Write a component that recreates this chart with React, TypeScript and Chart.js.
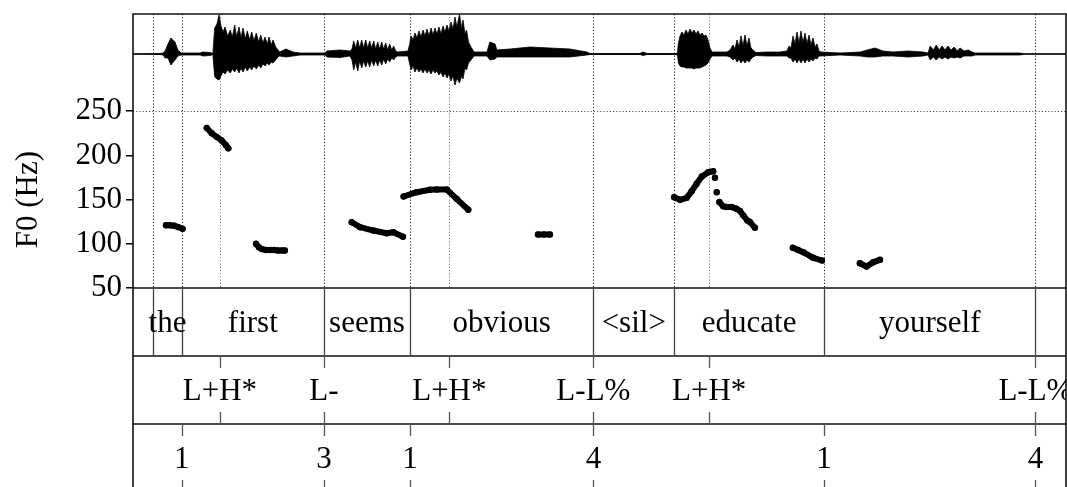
import React, { useEffect, useRef } from 'react';
import { Chart, registerables } from 'chart.js';

Chart.register(...registerables);

const W = 1067;
const H = 487;
const FONT = '"Liberation Serif", "Times New Roman", serif';

// ---- time axis (seconds) ----
const DURATION = 3.2;

// ---- tiers ----
const wordBounds = [0.070, 0.167, 0.655, 0.950, 1.579, 1.856, 2.370, 3.095];
const words = ['', 'the', 'first', 'seems', 'obvious', '<sil>', 'educate', 'yourself', ''];
const toneTimes = [0.298, 0.655, 1.085, 1.579, 1.976, 3.095];
const toneLabels = ['L+H*', 'L-', 'L+H*', 'L-L%', 'L+H*', 'L-L%'];
const breakTimes = [0.167, 0.655, 0.950, 1.579, 2.370, 3.095];
const breakLabels = ['1', '3', '1', '4', '1', '4'];

// ---- F0 axis ----
const f0Ticks = [50, 100, 150, 200, 250];
const F0_MIN = 50;
const F0_MAX = 360;

// ---- F0 track (null = unvoiced gap) ----
const f0Time = [
  0.113, 0.127, 0.141, 0.154, 0.170, 0.21,
  0.253, 0.270, 0.287, 0.304, 0.319, 0.327, 0.37,
  0.422, 0.432, 0.442, 0.456, 0.470, 0.484, 0.497, 0.511, 0.521, 0.6,
  0.750, 0.779, 0.824, 0.870, 0.893, 0.926, 0.927,
  0.928, 0.973, 1.019, 1.042, 1.076, 1.110, 1.150, 1.3,
  1.389, 1.410, 1.430, 1.6,
  1.856, 1.876, 1.899, 1.916, 1.933, 1.951, 1.973, 1.990, 1.993,
  1.996, 1.999,
  2.002, 2.006,
  2.011, 2.024, 2.036, 2.053, 2.070, 2.082, 2.093, 2.107, 2.116, 2.133, 2.2,
  2.263, 2.281, 2.299, 2.333, 2.363, 2.43,
  2.493, 2.516, 2.539, 2.562,
];
const f0Hz = [
  121, 121, 120.5, 119, 117, null,
  231, 225, 221, 217, 211.5, 208, null,
  100, 96, 94, 93, 93, 93, 92.5, 92.5, 92.5, null,
  124.4, 118.8, 115, 112, 113, 108, null,
  153.5, 158.4, 161.1, 161.5, 161.4, 150.9, 138.5, null,
  110.5, 110.5, 110.5, null,
  152.7, 149.8, 152, 159.5, 167.9, 176.1, 181, 182.1, null,
  174.7, null,
  158.4, null,
  147.3, 142.4, 141.6, 141.6, 139.8, 137.1, 132.2, 126.5, 124.6, 118.3, null,
  95.5, 93, 90.5, 84.2, 81.1, null,
  78, 74.3, 79.2, 81.9,
];

// ---- waveform envelope (relative amplitude, full scale = 40) ----
const waveTime = [
  0, 0.093, 0.103, 0.110, 0.120, 0.130, 0.144, 0.154, 0.165, 0.230, 0.240, 0.264, 0.274,
  0.2802, 0.2881, 0.2950, 0.3018, 0.3087, 0.3155, 0.3248, 0.3337, 0.3406, 0.3488, 0.3557, 0.3636,
  0.3704, 0.3773, 0.3852, 0.3920, 0.4003, 0.4071, 0.4150, 0.4229, 0.4311, 0.4380, 0.4459, 0.4527,
  0.4606, 0.4665, 0.4743, 0.4802, 0.4894, 0.4973, 0.5031,
  0.525, 0.549, 0.573, 0.659, 0.665, 0.710, 0.744,
  0.7511, 0.7570, 0.7638, 0.7707, 0.7775, 0.7844, 0.7913, 0.7981, 0.8050, 0.8118, 0.8187, 0.8256,
  0.8324, 0.8393, 0.8461, 0.8530, 0.8598, 0.8667, 0.8736, 0.8804, 0.8873, 0.8941, 0.9010, 0.9079, 0.943,
  0.9490, 0.9535, 0.9603, 0.9672, 0.9740, 0.9809, 0.9878, 0.9946, 1.0015, 1.0083, 1.0152, 1.0221,
  1.0289, 1.0358, 1.0426, 1.0495, 1.0564, 1.0632, 1.0701, 1.0769, 1.0838, 1.0907, 1.0975, 1.1044,
  1.1112, 1.1198, 1.1267, 1.1318, 1.1387, 1.1438, 1.1507, 1.1593, 1.1696,
  1.214, 1.224, 1.242, 1.248, 1.293, 1.362, 1.430, 1.499, 1.557, 1.567, 1.739, 1.749, 1.763, 1.8658,
  1.8675, 1.8709, 1.8761, 1.8829, 1.8898, 1.8967, 1.9035, 1.9104, 1.9172, 1.9241, 1.9310, 1.9378,
  1.9447, 1.9515, 1.9584, 1.9653, 1.9721, 1.9790, 1.9859,
  2.0373, 2.0476, 2.0579, 2.0647, 2.0716, 2.0785, 2.0853, 2.0922, 2.0990, 2.1059, 2.1127, 2.1196,
  2.1265, 2.1368, 2.175, 2.219,
  2.2431, 2.2500, 2.2568, 2.2637, 2.2705, 2.2774, 2.2843, 2.2911, 2.2980, 2.3048, 2.3117, 2.3185,
  2.3254, 2.3323, 2.3391, 2.3460, 2.3528, 2.3597,
  2.425, 2.494, 2.518, 2.545, 2.572, 2.607, 2.658, 2.710, 2.727, 2.734, 2.745, 2.755, 2.765, 2.775,
  2.785, 2.795, 2.806, 2.816, 2.827, 2.837, 2.850, 2.865, 2.878, 2.888, 3.042, 3.059, 3.2,
];
const waveUp = [
  0, 0.5, 1, 3, 10, 16, 12, 4, 1, 1, 2, 1.5, 0.5,
  26, 30, 39, 28, 22, 27, 18, 24, 17, 29, 17, 27,
  16, 26, 15, 23, 14, 22, 13, 21, 12, 19, 11, 17,
  10, 17, 9, 14, 7, 4, 2,
  5, 2, 1, 1, 3, 4, 3,
  5, 13, 6, 14, 6, 14, 6, 14, 6, 13, 6, 13,
  5, 12, 5, 12, 5, 11, 4, 10, 4, 8, 3, 2, 3,
  10, 18, 14, 21, 16, 23, 17, 24, 18, 25, 18, 26,
  19, 26, 20, 27, 20, 28, 22, 29, 23, 32, 25, 37,
  27, 40, 26, 34, 20, 24, 12, 7, 2,
  2, 12, 10, 4, 5, 7, 6, 5, 2, 0.5, 0.5, 2, 0.5, 0.5,
  2, 11, 18, 22, 19, 24, 20, 25, 21, 24, 20, 23,
  19, 21, 18, 19, 14, 6, 2,
  2, 4, 9, 5, 14, 7, 18, 8, 19, 8, 16, 6,
  4, 1.5, 2, 2,
  3, 8, 6, 18, 10, 22, 11, 23, 11, 21, 10, 19,
  9, 16, 7, 10, 3, 2,
  1, 2, 4, 6, 3, 2, 3, 2, 1, 8, 4, 9, 4, 8,
  4, 8, 4, 7, 3, 6, 3, 4, 2, 1, 1, 0, 0,
];
const waveDown = [
  0, 0.5, 1, 4, 4, 11, 6, 2, 1, 1, 2, 1.5, 0.5,
  23, 25, 26, 22, 18, 20, 16, 19, 15, 18, 14, 19,
  14, 18, 13, 17, 13, 16, 12, 15, 11, 14, 10, 12,
  9, 11, 8, 9, 6, 3, 2,
  3, 2, 1, 1, 3, 3.5, 2,
  6, 16, 8, 17, 7, 14, 7, 13, 7, 13, 6, 12,
  6, 12, 6, 11, 5, 10, 5, 8, 4, 6, 3, 2, 2,
  10, 16, 12, 18, 14, 18, 15, 19, 15, 19, 16, 20,
  16, 19, 17, 21, 18, 23, 19, 24, 20, 27, 22, 31,
  24, 29, 22, 25, 14, 16, 9, 6, 2,
  2, 6, 5, 3, 3, 3, 3, 3, 1, 0.5, 0.5, 1.5, 0.5, 0.5,
  2, 9, 12, 13, 13, 14, 14, 14, 14, 15, 14, 14,
  14, 13, 12, 11, 9, 5, 2,
  2, 3, 6, 4, 8, 5, 9, 6, 9, 6, 8, 5,
  3, 1.5, 2, 2,
  2, 4, 4, 8, 5, 9, 5, 9, 5, 9, 5, 8,
  5, 7, 4, 5, 2, 2,
  1, 2, 3, 3, 2, 2, 3, 2, 1, 6, 3, 6, 3, 5,
  3, 5, 3, 4, 3, 4, 2, 2, 2, 1, 1, 0, 0,
];
const WAVE_MAX = 40;
const WAVE_MIN = -234;

function line(ctx: CanvasRenderingContext2D, x1: number, y1: number, x2: number, y2: number) {
  ctx.beginPath();
  ctx.moveTo(x1, y1);
  ctx.lineTo(x2, y2);
  ctx.stroke();
}

const TIER_H = 68;
const TICK = 12;
const BASE = 44;

const praatPlugin = {
  id: 'praatTiers',
  beforeDatasetsDraw(chart: any) {
    const { ctx, chartArea: ca, scales } = chart;
    const xs = scales.x;
    const ys = scales.y;
    ctx.save();
    ctx.lineWidth = 1;
    ctx.setLineDash([1.2, 2]);
    const strong = new Set(wordBounds);
    const all = Array.from(new Set([...wordBounds, ...toneTimes, ...breakTimes]));
    for (const t of all) {
      const px = Math.round(xs.getPixelForValue(t)) + 0.5;
      ctx.strokeStyle = strong.has(t) ? '#222' : '#777';
      line(ctx, px, ca.top, px, ca.bottom);
    }
    const gy = Math.round(ys.getPixelForValue(250)) + 0.5;
    ctx.strokeStyle = '#555';
    line(ctx, ca.left, gy, ca.right, gy);
    ctx.restore();
  },
  afterDatasetsDraw(chart: any) {
    const { ctx, chartArea: ca, scales } = chart;
    const xs = scales.x;
    const ys = scales.y;
    const bottom = chart.height;
    const t1 = ca.bottom;
    const t2 = t1 + TIER_H;
    const t3 = t2 + TIER_H;
    ctx.save();
    ctx.setLineDash([]);
    // frame
    ctx.strokeStyle = '#111';
    ctx.lineWidth = 1.6;
    ctx.beginPath();
    ctx.moveTo(ca.left, bottom + 2);
    ctx.lineTo(ca.left, ca.top);
    ctx.lineTo(ca.right, ca.top);
    ctx.lineTo(ca.right, bottom + 2);
    ctx.stroke();
    for (const yy of [t1, t2, t3]) line(ctx, ca.left, yy, ca.right, yy);

    // word tier boundaries
    ctx.strokeStyle = '#444';
    ctx.lineWidth = 1.3;
    for (const t of wordBounds) {
      const px = Math.round(xs.getPixelForValue(t)) + 0.5;
      line(ctx, px, t1, px, t2);
    }
    // point tier ticks
    ctx.strokeStyle = '#555';
    for (const t of toneTimes) {
      const px = Math.round(xs.getPixelForValue(t)) + 0.5;
      line(ctx, px, t2, px, t2 + TICK);
      line(ctx, px, t3 - TICK, px, t3);
    }
    for (const t of breakTimes) {
      const px = Math.round(xs.getPixelForValue(t)) + 0.5;
      line(ctx, px, t3, px, t3 + TICK);
      line(ctx, px, t3 + TIER_H - TICK, px, t3 + TIER_H);
    }

    // labels
    ctx.beginPath();
    ctx.rect(ca.left, t1, ca.right - ca.left, bottom - t1);
    ctx.clip();
    ctx.fillStyle = '#000';
    ctx.font = `31px ${FONT}`;
    ctx.textAlign = 'center';
    ctx.textBaseline = 'alphabetic';
    const edges = [0, ...wordBounds, DURATION];
    words.forEach((w, i) => {
      if (!w) return;
      const cx = (xs.getPixelForValue(edges[i]) + xs.getPixelForValue(edges[i + 1])) / 2;
      ctx.fillText(w, cx, t1 + BASE);
    });
    toneLabels.forEach((l, i) => {
      ctx.fillText(l, xs.getPixelForValue(toneTimes[i]), t2 + BASE);
    });
    breakLabels.forEach((l, i) => {
      ctx.fillText(l, xs.getPixelForValue(breakTimes[i]), t3 + BASE);
    });
    ctx.restore();

    // y title
    ctx.save();
    ctx.fillStyle = '#000';
    ctx.font = `31px ${FONT}`;
    ctx.textAlign = 'center';
    ctx.textBaseline = 'alphabetic';
    const cy = (ys.getPixelForValue(f0Ticks[0]) + ys.getPixelForValue(f0Ticks[f0Ticks.length - 1])) / 2;
    ctx.translate(36.5, cy);
    ctx.rotate(-Math.PI / 2);
    ctx.fillText('F0 (Hz)', 0, 0);
    ctx.restore();
  },
};

export default function App() {
  const ref = useRef<HTMLCanvasElement>(null);
  useEffect(() => {
    const canvas = ref.current;
    if (!canvas) return;
    const f0Data = f0Time.map((t, i) => ({ x: t, y: f0Hz[i] }));
    const upData = waveTime.map((t, i) => ({ x: t, y: waveUp[i] }));
    const downData = waveTime.map((t, i) => ({ x: t, y: -waveDown[i] }));
    const zeroData = [{ x: 0, y: 0 }, { x: DURATION, y: 0 }];
    const chart = new Chart(canvas, {
      type: 'line',
      data: {
        datasets: [
          {
            data: upData as any, yAxisID: 'yw', borderColor: '#000', borderWidth: 0.8,
            backgroundColor: '#000', fill: '+1', pointRadius: 0, tension: 0,
          },
          {
            data: downData as any, yAxisID: 'yw', borderColor: '#000', borderWidth: 0.8,
            backgroundColor: '#000', fill: false, pointRadius: 0, tension: 0,
          },
          {
            data: zeroData as any, yAxisID: 'yw', borderColor: '#000', borderWidth: 1.2,
            fill: false, pointRadius: 0,
          },
          {
            data: f0Data as any, yAxisID: 'y', borderColor: '#000', borderWidth: 6,
            borderCapStyle: 'round', borderJoinStyle: 'round', pointRadius: 3.2,
            pointBackgroundColor: '#000', pointBorderWidth: 0, spanGaps: false, fill: false, tension: 0,
          },
        ],
      },
      options: {
        responsive: false,
        animation: false,
        events: [],
        layout: { autoPadding: false, padding: { left: 0, top: 14, right: 1, bottom: H - 288 } },
        plugins: { legend: { display: false }, tooltip: { enabled: false } },
        scales: {
          x: { type: 'linear', min: 0, max: DURATION, display: false },
          y: {
            type: 'linear',
            position: 'left',
            min: F0_MIN,
            max: F0_MAX,
            afterBuildTicks: (s: any) => {
              s.ticks = f0Ticks.map((v) => ({ value: v }));
            },
            afterFit: (s: any) => {
              s.width = 133;
              s.paddingTop = 0;
              s.paddingBottom = 0;
            },
            ticks: { font: { family: FONT, size: 31 }, color: '#000', padding: 4 },
            grid: { drawOnChartArea: false, color: '#000', tickLength: 7, lineWidth: 1.5 },
            border: { display: false },
          },
          yw: { type: 'linear', position: 'left', min: WAVE_MIN, max: WAVE_MAX, display: false },
        },
      } as any,
      plugins: [praatPlugin],
    });
    return () => chart.destroy();
  }, []);
  return (
    <div style={{ position: 'absolute', left: 0, top: 0, width: W, height: H, background: '#fff', overflow: 'hidden' }}>
      <canvas ref={ref} width={W} height={H} style={{ display: 'block' }} />
    </div>
  );
}
